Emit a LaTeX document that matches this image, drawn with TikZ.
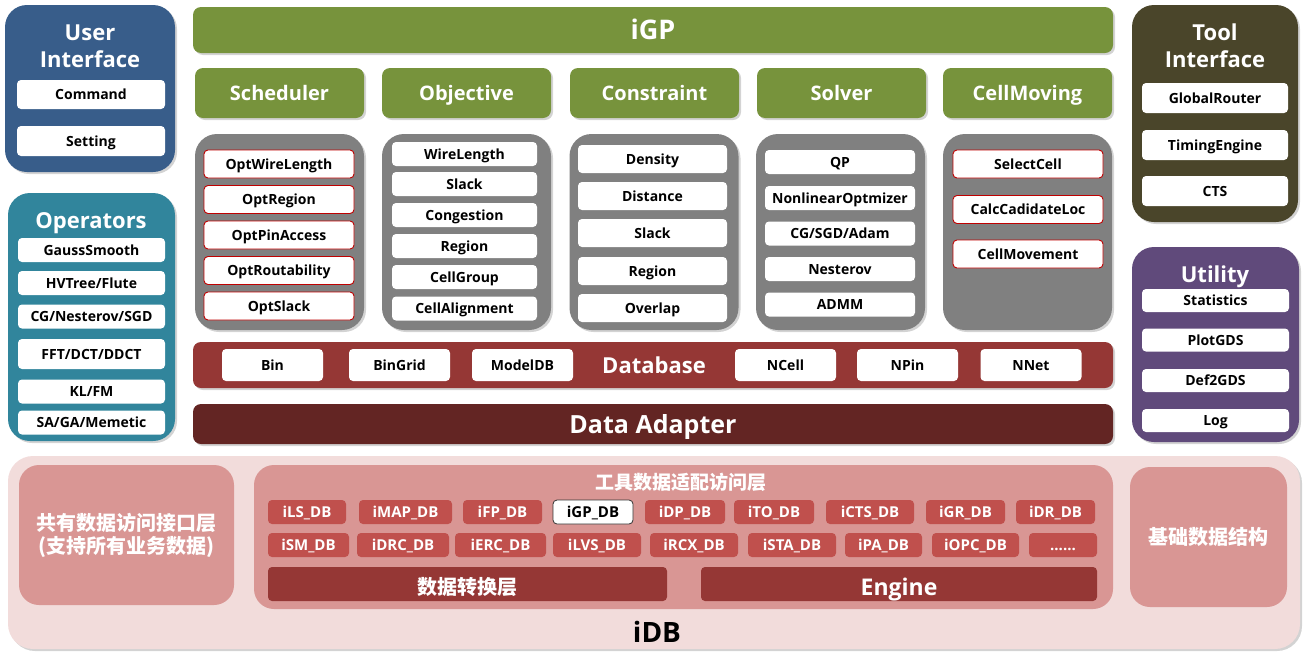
\documentclass[tikz,border=0pt]{standalone}
\usepackage{fontspec}
\setmainfont{Open Sans}
\newfontfamily\cjk{Noto Sans CJK SC}
\usetikzlibrary{shadows}
\definecolor{uiblue}{HTML}{385D8A}
\definecolor{opteal}{HTML}{31859C}
\definecolor{gpgreen}{HTML}{77933C}
\definecolor{boxgray}{HTML}{808080}
\definecolor{dbred}{HTML}{953735}
\definecolor{adbrown}{HTML}{632523}
\definecolor{tiolive}{HTML}{4A452A}
\definecolor{utpurple}{HTML}{604A7B}
\definecolor{idbpink}{HTML}{F2DCDB}
\definecolor{layerpink}{HTML}{D99694}
\definecolor{chipred}{HTML}{C0504D}
\definecolor{optred}{HTML}{C00000}
\begin{document}
\begin{tikzpicture}[x=1pt, y=-1pt,
  panel/.style={rounded corners=#1, inner sep=0pt, outer sep=0pt, text=white,
    drop shadow={shadow xshift=2pt, shadow yshift=-2pt, opacity=0.35}},
  panel/.default=22pt,
  title/.style={text=white, align=center, inner sep=0pt, font=\bfseries\fontsize{#1}{27}\selectfont},
  title/.default=22,
  cap/.style={text height=#1, text depth=0pt},
  item/.style={fill=white, rounded corners=4pt, inner sep=0pt, outer sep=0pt, cap=10pt,
    font=\bfseries\fontsize{14}{16}\selectfont},
  ritem/.style={item, draw=optred, line width=0.9pt},
  chip/.style={fill=chipred, rounded corners=4pt, inner sep=0pt, text=white, cap=10.5pt,
    minimum height=24pt, font=\bfseries\fontsize{15}{17}\selectfont},
  layer/.style={fill=layerpink, rounded corners=20pt, inner sep=0pt, text=white}]
\useasboundingbox (0,0) rectangle (1312,659);

% left column
\node [panel, fill=uiblue, minimum width=170pt, minimum height=167pt] (ui) at (90,88.5) {};
\node [title] (uit) at (90,46.5) {User\\Interface};
\node [item, minimum width=148pt, minimum height=29pt] (cmd) at (91,94.5) {Command};
\node [item, minimum width=148pt, minimum height=30pt] (set) at (91,141) {Setting};

\node [panel, fill=opteal, minimum width=167pt, minimum height=248pt] (op) at (91.5,317) {};
\node [title, cap=16pt] (opt) at (91,220) {Operators};
\node [item, minimum width=147pt, minimum height=24pt] (gs) at (91.5,250) {GaussSmooth};
\node [item, minimum width=147pt, minimum height=24pt] (hv) at (91.5,283) {HVTree/Flute};
\node [item, minimum width=147pt, minimum height=24pt] (cg) at (91.5,316.5) {CG/Nesterov/SGD};
\node [item, minimum width=147pt, minimum height=30pt] (fft) at (91.5,354) {FFT/DCT/DDCT};
\node [item, minimum width=147pt, minimum height=24pt] (kl) at (91.5,391.5) {KL/FM};
\node [item, minimum width=147pt, minimum height=24pt] (sa) at (91.5,422.5) {SA/GA/Memetic};

% iGP
\node [panel=8pt, fill=gpgreen, minimum width=920pt, minimum height=46pt, title=27, cap=19.5pt] (igp) at (653,30) {iGP};
\node [panel=8pt, fill=gpgreen, minimum width=169pt, minimum height=50pt, title=20, cap=14.5pt] (sch) at (279.5,93) {Scheduler};
\node [panel=8pt, fill=gpgreen, minimum width=169pt, minimum height=50pt, title=20, cap=14.5pt] (obj) at (466.5,93) {Objective};
\node [panel=8pt, fill=gpgreen, minimum width=169pt, minimum height=50pt, title=20, cap=14.5pt] (con) at (654.5,93) {Constraint};
\node [panel=8pt, fill=gpgreen, minimum width=169pt, minimum height=50pt, title=20, cap=14.5pt] (sol) at (841.5,93) {Solver};
\node [panel=8pt, fill=gpgreen, minimum width=169pt, minimum height=50pt, title=20, cap=14.5pt] (cm) at (1027.5,93) {CellMoving};

\node [panel, fill=boxgray, minimum width=169pt, minimum height=196pt] (schb) at (279.5,232) {};
\node [panel, fill=boxgray, minimum width=169pt, minimum height=196pt] (objb) at (466.5,232) {};
\node [panel, fill=boxgray, minimum width=169pt, minimum height=196pt] (conb) at (654,232) {};
\node [panel, fill=boxgray, minimum width=169pt, minimum height=196pt] (solb) at (840.5,232) {};
\node [panel, fill=boxgray, minimum width=169pt, minimum height=196pt] (cmb) at (1027.5,232) {};

\node [ritem, minimum width=150pt, minimum height=28pt] (s1) at (279,164) {OptWireLength};
\node [ritem, minimum width=150pt, minimum height=28pt] (s2) at (279,199.5) {OptRegion};
\node [ritem, minimum width=150pt, minimum height=28pt] (s3) at (279,235) {OptPinAccess};
\node [ritem, minimum width=150pt, minimum height=28pt] (s4) at (279,270.5) {OptRoutability};
\node [ritem, minimum width=150pt, minimum height=28pt] (s5) at (279,306) {OptSlack};

\node [item, minimum width=145pt, minimum height=24pt] (o1) at (464.5,154) {WireLength};
\node [item, minimum width=145pt, minimum height=24pt] (o2) at (464.5,184) {Slack};
\node [item, minimum width=145pt, minimum height=24pt] (o3) at (464.5,215) {Congestion};
\node [item, minimum width=145pt, minimum height=24pt] (o4) at (464.5,246) {Region};
\node [item, minimum width=145pt, minimum height=24pt] (o5) at (464.5,277) {CellGroup};
\node [item, minimum width=145pt, minimum height=24pt] (o6) at (464.5,308.5) {CellAlignment};

\node [item, minimum width=149pt, minimum height=28pt] (c1) at (652.5,159) {Density};
\node [item, minimum width=149pt, minimum height=28pt] (c2) at (652.5,196) {Distance};
\node [item, minimum width=149pt, minimum height=28pt] (c3) at (652.5,233) {Slack};
\node [item, minimum width=149pt, minimum height=28pt] (c4) at (652.5,271) {Region};
\node [item, minimum width=149pt, minimum height=28pt] (c5) at (652.5,308) {Overlap};

\node [item, minimum width=150pt, minimum height=24pt] (v1) at (840,162) {QP};
\node [item, minimum width=150pt, minimum height=24pt] (v2) at (840,198) {NonlinearOptmizer};
\node [item, minimum width=150pt, minimum height=24pt] (v3) at (840,233.5) {CG/SGD/Adam};
\node [item, minimum width=150pt, minimum height=24pt] (v4) at (840,269) {Nesterov};
\node [item, minimum width=150pt, minimum height=24pt] (v5) at (840,304.5) {ADMM};

\node [ritem, minimum width=150pt, minimum height=28pt] (m1) at (1028,164) {SelectCell};
\node [ritem, minimum width=150pt, minimum height=28pt] (m2) at (1028,209.5) {CalcCadidateLoc};
\node [ritem, minimum width=150pt, minimum height=28pt] (m3) at (1028,254) {CellMovement};

% database
\node [panel=8pt, fill=dbred, minimum width=920pt, minimum height=46pt] (db) at (653,365) {};
\node [title, cap=16pt] (dbt) at (654,365) {Database};
\node [item, minimum width=101pt, minimum height=32pt] (bin) at (272.5,365) {Bin};
\node [item, minimum width=101pt, minimum height=32pt] (bg) at (399.5,365) {BinGrid};
\node [item, minimum width=101pt, minimum height=32pt] (mdb) at (522.5,365) {ModelDB};
\node [item, minimum width=101pt, minimum height=32pt] (nc) at (785.5,365) {NCell};
\node [item, minimum width=101pt, minimum height=32pt] (np) at (907.5,365) {NPin};
\node [item, minimum width=101pt, minimum height=32pt] (nn) at (1031,365) {NNet};
\node [panel=8pt, fill=adbrown, minimum width=920pt, minimum height=40pt, title=25, cap=18pt] (da) at (653,424) {Data Adapter};

% right column
\node [panel, fill=tiolive, minimum width=166pt, minimum height=217pt] (ti) at (1215,113.5) {};
\node [title] (tit) at (1215,46) {Tool\\Interface};
\node [item, minimum width=146pt, minimum height=30pt] (gr) at (1215,98) {GlobalRouter};
\node [item, minimum width=146pt, minimum height=30pt] (te) at (1215,145) {TimingEngine};
\node [item, minimum width=146pt, minimum height=30pt] (cts) at (1215,191) {CTS};

\node [panel, fill=utpurple, minimum width=167pt, minimum height=195pt] (ut) at (1215.5,344.5) {};
\node [title, cap=16pt] (utt) at (1215,274) {Utility};
\node [item, minimum width=147pt, minimum height=23pt] (st) at (1215.5,300.5) {Statistics};
\node [item, minimum width=147pt, minimum height=23pt] (pg) at (1215.5,340) {PlotGDS};
\node [item, minimum width=147pt, minimum height=23pt] (dg) at (1215.5,380.5) {Def2GDS};
\node [item, minimum width=147pt, minimum height=23pt] (lg) at (1215.5,420.5) {Log};

% iDB
\node [panel=25pt, fill=idbpink, minimum width=1292pt, minimum height=193pt] (idb) at (654,552.5) {};
\node [title=28, cap=20pt, text=black] (idbt) at (657,632) {iDB};
\node [layer, minimum width=215pt, minimum height=140pt, align=center,
  font=\cjk\bfseries\fontsize{20}{23}\selectfont] (com) at (126.5,535) {共有数据访问接口层\\(支持所有业务数据)};
\node [layer, minimum width=859pt, minimum height=144pt] (tool) at (683.5,537) {};
\node [text=white, font=\cjk\bfseries\fontsize{19}{21}\selectfont] (toolt) at (681,482) {工具数据适配访问层};
\node [layer, minimum width=157pt, minimum height=140pt,
  font=\cjk\bfseries\fontsize{20}{23}\selectfont] (base) at (1208.5,537) {基础数据结构};

\node [chip, minimum width=78pt] (ls) at (307,512) {iLS\_DB};
\node [chip, minimum width=93pt] (map) at (405.5,512) {iMAP\_DB};
\node [chip, minimum width=79pt] (fp) at (502.5,512) {iFP\_DB};
\node [chip, minimum width=80pt, fill=white, draw=black!80, line width=0.8pt, text=black] (gp) at (593,512) {iGP\_DB};
\node [chip, minimum width=80pt] (dp) at (685,512) {iDP\_DB};
\node [chip, minimum width=80pt] (to) at (774,512) {iTO\_DB};
\node [chip, minimum width=88pt] (ct) at (870,512) {iCTS\_DB};
\node [chip, minimum width=79pt] (grd) at (965.5,512) {iGR\_DB};
\node [chip, minimum width=79pt] (dr) at (1055.5,512) {iDR\_DB};
\node [chip, minimum width=81pt] (sm) at (308.5,545) {iSM\_DB};
\node [chip, minimum width=92pt] (drc) at (403,545) {iDRC\_DB};
\node [chip, minimum width=91pt] (erc) at (500.5,545) {iERC\_DB};
\node [chip, minimum width=88pt] (lvs) at (597,545) {iLVS\_DB};
\node [chip, minimum width=88pt] (rcx) at (694,545) {iRCX\_DB};
\node [chip, minimum width=88pt] (sta) at (792,545) {iSTA\_DB};
\node [chip, minimum width=77pt] (pa) at (883.5,545) {iPA\_DB};
\node [chip, minimum width=87pt] (opc) at (975.5,545) {iOPC\_DB};
\node [chip, minimum width=68pt] (more) at (1063,545) {......};
\node [chip, fill=dbred, minimum width=399pt, minimum height=34pt, cap=21pt,
  font=\cjk\bfseries\fontsize{20}{23}\selectfont] (conv) at (467.5,584) {数据转换层};
\node [chip, fill=dbred, minimum width=396pt, minimum height=34pt, cap=22.5pt,
  font=\bfseries\fontsize{23}{26}\selectfont] (eng) at (899,584) {Engine};
\end{tikzpicture}
\end{document}
